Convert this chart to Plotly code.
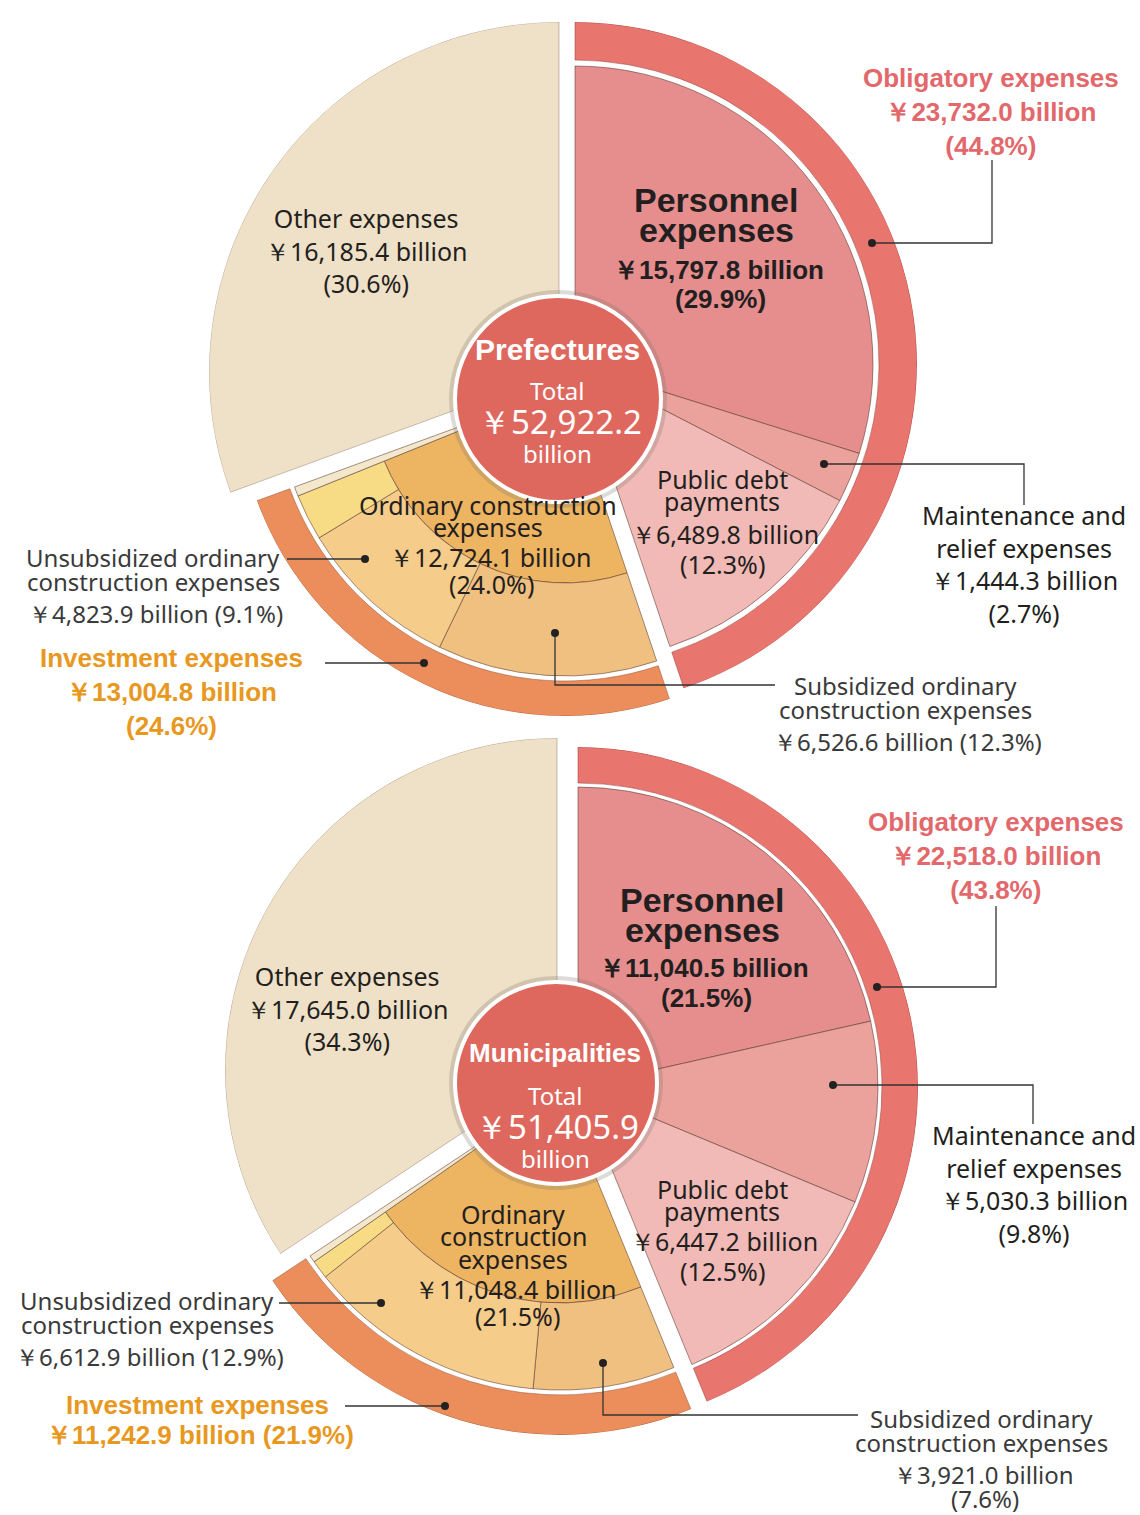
import plotly.graph_objects as go

# ---------------- DATA (¥ billion) ----------------
pref_total = 52922.2
pref_obligatory = 23732.0
pref_obl_values = [15797.8, 1444.3, 6489.8]      # personnel, maintenance & relief, public debt
pref_investment = 13004.8
pref_ordinary = 12724.1
pref_unsubsidized = 4823.9
pref_subsidized = 6526.6
pref_other = 16185.4

muni_total = 51405.9
muni_obligatory = 22518.0
muni_obl_values = [11040.5, 5030.3, 6447.2]
muni_investment = 11242.9
muni_ordinary = 11048.4
muni_unsubsidized = 6612.9
muni_subsidized = 3921.0
muni_other = 17645.0

# ---------------- STYLE ----------------
W, H = 1140, 1515
REG = "Noto Sans, Open Sans, sans-serif"
BOLD = "Liberation Sans, Arial, sans-serif"
DARK = "#231F20"
GREY = "#3A3A3A"
OBL_TXT = "#E2686B"
INV_TXT = "#E8981E"
EDGE = "rgba(90,55,45,0.55)"

C_OTHER = "#EFE1C8"
C_OBL_RING = "#E8756E"
C_OBL = ["#E68E8E", "#EBA29D", "#F1BAB6"]
C_INV_RING = "#EB8E5C"
C_ORD = "#EDB462"
C_SUB = "#EFC07F"
C_UNSUB = "#F5CC8A"
C_YEL = "#F7DB85"
C_SLIVER = "#F3E8CC"
C_CIRCLE = "#DE685E"

IN_SZ = 25     # labels inside the wedges
OUT_SZ = 24    # labels outside
B_SZ = 26      # bold group labels

fig = go.Figure()
polars = {}
counter = [0]


def new_polar(cx, cy, R):
    counter[0] += 1
    name = "polar" if counter[0] == 1 else f"polar{counter[0]}"
    polars[name] = dict(
        domain=dict(x=[(cx - R) / W, (cx + R) / W], y=[1 - (cy + R) / H, 1 - (cy - R) / H]),
        bgcolor="rgba(0,0,0,0)",
        angularaxis=dict(visible=False, direction="clockwise", rotation=90),
        radialaxis=dict(visible=False, range=[0, R]),
    )
    return name


def wedges(sub, starts, widths, r0, r1, colors, lc=EDGE, lw=1):
    n = len(starts)
    fig.add_trace(go.Barpolar(
        subplot=sub,
        theta=[s + w / 2 for s, w in zip(starts, widths)],
        width=widths, base=[r0] * n, r=[r1 - r0] * n,
        marker=dict(color=colors, line=dict(color=lc, width=lw)),
        hoverinfo="skip", showlegend=False))


annotations = []
shapes = []


def txt(x, y, s, size=IN_SZ, color=DARK, family=REG, weight="normal"):
    annotations.append(dict(x=x / W, y=1 - y / H, xref="paper", yref="paper", text=s,
                            showarrow=False, xanchor="center", yanchor="middle", align="center",
                            font=dict(family=family, size=size, color=color, weight=weight)))


def block(x, y, lines, size=IN_SZ, color=DARK, family=REG, weight="normal"):
    txt(x, y, "<br>".join(lines), size, color, family, weight)


def leader(points, dot):
    path = "M " + " L ".join(f"{x / W} {1 - y / H}" for x, y in points)
    shapes.append(dict(type="path", xref="paper", yref="paper", path=path,
                       line=dict(color="#333333", width=1.3), layer="above"))
    dx, dy = dot
    r = 4
    shapes.append(dict(type="circle", xref="paper", yref="paper",
                       x0=(dx - r) / W, x1=(dx + r) / W, y0=1 - (dy + r) / H, y1=1 - (dy - r) / H,
                       fillcolor="#222222", line=dict(width=0), layer="above"))


def money(v):
    return f"￥{v:,.1f} billion"


def pct(v, t):
    return f"({v / t * 100:.1f}%)"


def chart(total, obligatory, obl_values, investment, ordinary, unsub, sub, other, geo):
    k = 360.0 / total
    a_obl, a_inv, a_oth = obligatory * k, investment * k, other * k
    # Other expenses (exploded wedge)
    s = new_polar(*geo["other_apex"], geo["other_r"])
    wedges(s, [a_obl + a_inv], [a_oth], 0, geo["other_r"], [C_OTHER], lc="rgba(150,130,110,0.5)")
    # Investment expenses
    r_ord, r_sub, r_ring0, r_ring1 = geo["inv_r"]
    s = new_polar(*geo["inv_apex"], r_ring1)
    start = a_obl
    wedges(s, [start], [ordinary * k], 0, r_ord, [C_ORD])
    rest_ord = ordinary - unsub - sub
    wedges(s, [start, start + sub * k, start + (sub + unsub) * k],
           [sub * k, unsub * k, rest_ord * k], r_ord, r_sub, [C_SUB, C_UNSUB, C_YEL])
    rest_inv = investment - ordinary
    wedges(s, [start + ordinary * k], [rest_inv * k], 0, r_sub, [C_SLIVER])
    wedges(s, [start], [a_inv], r_ring0, r_ring1, [C_INV_RING], lc="rgba(150,80,50,0.5)")
    # Obligatory expenses
    r_in, r_ring0, r_ring1 = geo["obl_r"]
    s = new_polar(*geo["obl_apex"], r_ring1)
    starts, acc = [], 0.0
    for v in obl_values:
        starts.append(acc * k)
        acc += v
    wedges(s, starts, [v * k for v in obl_values], 0, r_in, C_OBL)
    wedges(s, [0], [a_obl], r_ring0, r_ring1, [C_OBL_RING], lc="rgba(150,60,55,0.5)")
    # centre circle
    cx, cy = geo["circle"]
    rc = geo["circle_r"]
    s = new_polar(cx, cy, rc + 7)
    wedges(s, [0], [360], 0, rc + 6, ["rgba(120,110,100,0.25)"], lc="rgba(0,0,0,0)", lw=0)
    wedges(s, [0], [360], 0, rc, [C_CIRCLE], lc="white", lw=4)


geo_top = dict(other_apex=(559, 372), other_r=350,
               inv_apex=(565, 388), inv_r=(195, 288, 293, 328),
               obl_apex=(575, 364), obl_r=(298, 304, 342),
               circle=(558, 399), circle_r=103)
geo_bot = dict(other_apex=(557, 1070), other_r=332,
               inv_apex=(560, 1090), inv_r=(213, 300, 305, 345),
               obl_apex=(578, 1087), obl_r=(300, 304, 340),
               circle=(556, 1083), circle_r=101)

chart(pref_total, pref_obligatory, pref_obl_values, pref_investment, pref_ordinary,
      pref_unsubsidized, pref_subsidized, pref_other, geo_top)
chart(muni_total, muni_obligatory, muni_obl_values, muni_investment, muni_ordinary,
      muni_unsubsidized, muni_subsidized, muni_other, geo_bot)

# ---------------- TEXT: Prefectures ----------------
T = pref_total
block(991, 112, ["Obligatory expenses", money(pref_obligatory), pct(pref_obligatory, T)],
      B_SZ, OBL_TXT, BOLD, "bold")
txt(716, 200, "Personnel", 34, DARK, BOLD, "bold")
txt(716, 230, "expenses", 34, DARK, BOLD, "bold")
txt(718, 270, money(pref_obl_values[0]), 26, DARK, BOLD, "bold")
txt(720, 299, pct(pref_obl_values[0], T), 26, DARK, BOLD, "bold")
block(366, 250, ["Other expenses", money(pref_other), pct(pref_other, T)])
txt(557, 349, "Prefectures", 30, "white", BOLD, "bold")
txt(557, 390, "Total", 24, "white")
txt(560, 421, f"￥{pref_total:,.1f}", 33, "white")
txt(557, 453, "billion", 24, "white")
txt(722, 479, "Public debt")
txt(722, 501, "payments")
txt(725, 534, money(pref_obl_values[2]))
txt(722, 564, pct(pref_obl_values[2], T))
block(1024, 564, ["Maintenance and", "relief expenses", money(pref_obl_values[1]),
                  pct(pref_obl_values[1], T)])
txt(488, 505, "Ordinary construction")
txt(488, 527, "expenses")
txt(490, 557, money(pref_ordinary))
txt(491, 584, pct(pref_ordinary, T))
txt(153, 557, "Unsubsidized ordinary", OUT_SZ, GREY)
txt(153, 581, "construction expenses", OUT_SZ, GREY)
txt(155, 613, money(pref_unsubsidized) + " " + pct(pref_unsubsidized, T), OUT_SZ, GREY)
block(171, 692, ["Investment expenses", money(pref_investment), pct(pref_investment, T)],
      B_SZ, INV_TXT, BOLD, "bold")
txt(905, 685, "Subsidized ordinary", OUT_SZ, GREY)
txt(905, 709, "construction expenses", OUT_SZ, GREY)
txt(907, 741, money(pref_subsidized) + " " + pct(pref_subsidized, T), OUT_SZ, GREY)

leader([(992, 160), (992, 243), (872, 243)], (872, 243))
leader([(824, 464), (1024, 464), (1024, 505)], (824, 464))
leader([(287, 559), (365, 559)], (365, 559))
leader([(325, 663), (424, 663)], (424, 663))
leader([(555, 633), (555, 685), (775, 685)], (555, 633))

# ---------------- TEXT: Municipalities ----------------
T = muni_total
block(996, 856, ["Obligatory expenses", money(muni_obligatory), pct(muni_obligatory, T)],
      B_SZ, OBL_TXT, BOLD, "bold")
txt(702, 900, "Personnel", 34, DARK, BOLD, "bold")
txt(702, 930, "expenses", 34, DARK, BOLD, "bold")
txt(704, 968, money(muni_obl_values[0]), 26, DARK, BOLD, "bold")
txt(706, 998, pct(muni_obl_values[0], T), 26, DARK, BOLD, "bold")
block(347, 1008, ["Other expenses", money(muni_other), pct(muni_other, T)])
txt(555, 1053, "Municipalities", 26, "white", BOLD, "bold")
txt(555, 1095, "Total", 24, "white")
txt(557, 1126, f"￥{muni_total:,.1f}", 33, "white")
txt(555, 1158, "billion", 24, "white")
block(1034, 1184, ["Maintenance and", "relief expenses", money(muni_obl_values[1]),
                   pct(muni_obl_values[1], T)])
txt(722, 1189, "Public debt")
txt(722, 1211, "payments")
txt(724, 1241, money(muni_obl_values[2]))
txt(722, 1271, pct(muni_obl_values[2], T))
txt(513, 1214, "Ordinary")
txt(513, 1236, "construction")
txt(513, 1259, "expenses")
txt(515, 1289, money(muni_ordinary))
txt(517, 1316, pct(muni_ordinary, T))
txt(147, 1300, "Unsubsidized ordinary", OUT_SZ, GREY)
txt(147, 1324, "construction expenses", OUT_SZ, GREY)
txt(149, 1356, money(muni_unsubsidized) + " " + pct(muni_unsubsidized, T), OUT_SZ, GREY)
txt(197, 1405, "Investment expenses", B_SZ, INV_TXT, BOLD, "bold")
txt(200, 1435, money(muni_investment) + " " + pct(muni_investment, T), B_SZ, INV_TXT, BOLD, "bold")
txt(981, 1418, "Subsidized ordinary", OUT_SZ, GREY)
txt(981, 1442, "construction expenses", OUT_SZ, GREY)
txt(983, 1474, money(muni_subsidized), OUT_SZ, GREY)
txt(985, 1498, pct(muni_subsidized, T), OUT_SZ, GREY)

leader([(996, 906), (996, 987), (877, 987)], (877, 987))
leader([(833, 1085), (1033, 1085), (1033, 1124)], (833, 1085))
leader([(279, 1303), (381, 1303)], (381, 1303))
leader([(345, 1406), (445, 1406)], (445, 1406))
leader([(603, 1363), (603, 1415), (858, 1415)], (603, 1363))

fig.update_layout(
    width=W, height=H,
    margin=dict(l=0, r=0, t=0, b=0),
    paper_bgcolor="white", plot_bgcolor="white",
    showlegend=False,
    annotations=annotations, shapes=shapes,
    **polars,
)
fig.write_html("out.html",
               config={"displayModeBar": False},
               post_script="document.body.style.margin='0px';document.body.style.overflow='hidden';")
